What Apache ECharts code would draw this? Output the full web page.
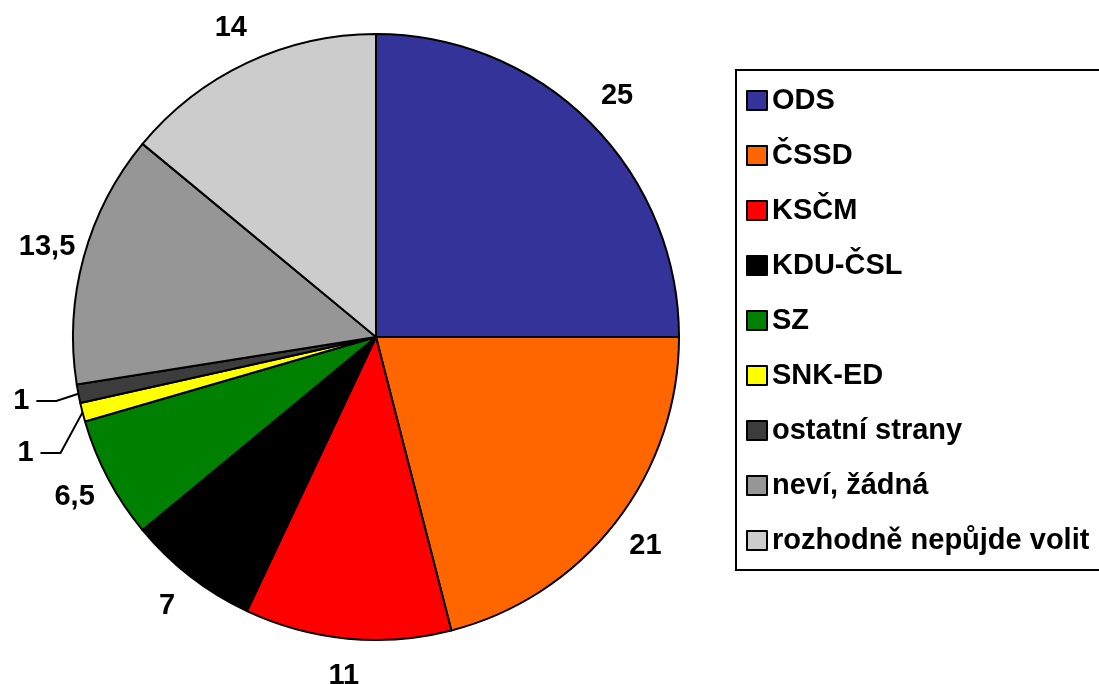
<!DOCTYPE html>
<html>
<head>
<meta charset="utf-8">
<script src="https://cdn.jsdelivr.net/npm/echarts@6/dist/echarts.min.js"></script>
<style>
  html, body { margin: 0; padding: 0; background: #fff; }
  #chart { width: 1099px; height: 684px; }
</style>
</head>
<body>
<div id="chart"></div>
<script>
const parties = ['ODS', 'ČSSD', 'KSČM', 'KDU-ČSL', 'SZ', 'SNK-ED', 'ostatní strany', 'neví, žádná', 'rozhodně nepůjde volit'];
const shares = [25, 21, 11, 7, 6.5, 1, 1, 13.5, 14];
const colors = ['#333399', '#ff6600', '#ff0000', '#000000', '#008000', '#ffff00', '#3c3c3c', '#969696', '#cccccc'];

const cx = 376, cy = 337, r = 303, labelR = 341;
const total = shares.reduce((a, b) => a + b, 0);
const smallGap = 52; // min vertical spacing of leader-line labels

// middle angle of each slice, clockwise from top
let acc = 0;
const midAngles = shares.map(v => {
  const m = (acc + v / 2) / total * 2 * Math.PI;
  acc += v;
  return m;
});

// y of small-slice labels, pushed apart so they don't collide
const smallY = {};
const small = shares.map((v, i) => i).filter(i => shares[i] <= 1)
  .map(i => ({ i: i, y: cy - labelR * Math.cos(midAngles[i]) }))
  .sort((a, b) => a.y - b.y);
small.forEach((s, k) => {
  if (k > 0 && s.y - small[k - 1].y < smallGap) s.y = small[k - 1].y + smallGap;
  smallY[s.i] = s.y;
});

const fmt = v => String(v).replace('.', ',');

let chart = echarts.init(document.getElementById('chart'));

let option = {
  animation: false,
  legend: {
    orient: 'vertical',
    left: 736,
    top: 70,
    padding: [16, 14, 15, 10],
    borderColor: '#000',
    borderWidth: 2,
    itemWidth: 20,
    itemHeight: 19,
    itemGap: 26,
    icon: 'rect',
    textStyle: {
      fontFamily: 'Liberation Sans, Arial, sans-serif',
      fontWeight: 'bold',
      fontSize: 29,
      lineHeight: 29,
      color: '#000'
    },
    data: parties
  },
  series: [
    {
      type: 'pie',
      center: [cx, cy],
      radius: r,
      startAngle: 90,
      clockwise: true,
      avoidLabelOverlap: false,
      itemStyle: {
        borderColor: '#000',
        borderWidth: 2
      },
      emphasis: { disabled: true },
      label: {
        show: true,
        position: 'outside',
        overflow: 'none',
        fontFamily: 'Liberation Sans, Arial, sans-serif',
        fontWeight: 'bold',
        fontSize: 29,
        color: '#000',
        formatter: p => fmt(p.value)
      },
      labelLine: {
        show: false,
        length: 8,
        length2: 22,
        lineStyle: { color: '#000', width: 2 }
      },
      labelLayout: function (params) {
        const i = params.dataIndex;
        const a = midAngles[i];
        if (shares[i] <= 1) {
          const ex = cx + r * Math.sin(a), ey = cy - r * Math.cos(a);
          const y = smallY[i];
          const elbowX = ex - 22, endX = elbowX - 20;
          return {
            x: endX - 7,
            y: y,
            align: 'right',
            verticalAlign: 'middle',
            labelLinePoints: [[ex, ey], [elbowX, y], [endX, y]]
          };
        }
        return {
          x: cx + labelR * Math.sin(a),
          y: cy - labelR * Math.cos(a),
          align: 'center',
          verticalAlign: 'middle'
        };
      },
      data: parties.map((name, i) => ({
        name: name,
        value: shares[i],
        itemStyle: { color: colors[i] },
        labelLine: { show: shares[i] <= 1 }
      }))
    }
  ]
};

option && chart.setOption(option);
</script>
</body>
</html>
